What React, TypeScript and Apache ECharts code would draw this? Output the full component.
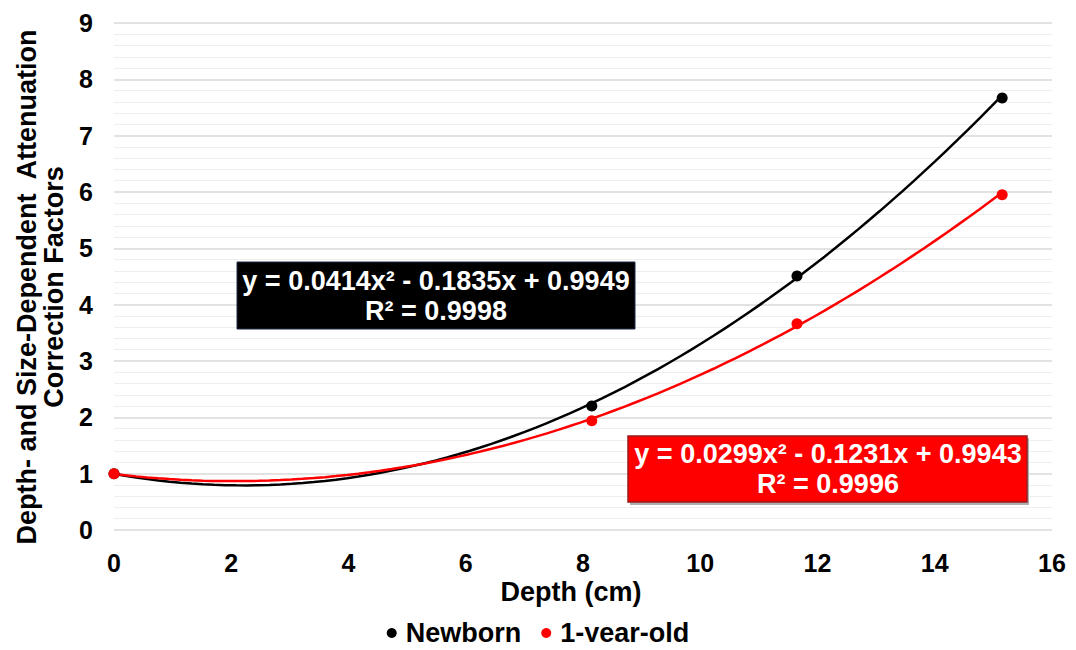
import React, { useEffect, useRef } from "react";
import * as echarts from "echarts";

// Measured depths (cm) and correction factors
const depths = [0, 8.15, 11.65, 15.15];
const newbornFactors = [1.0, 2.2, 4.51, 7.67];
const oneYearFactors = [1.0, 1.94, 3.66, 5.95];

// Quadratic trendline coefficients [a, b, c] for y = a x^2 + b x + c
const newbornFit = [0.0414, -0.1835, 0.9949];
const oneYearFit = [0.0299, -0.1231, 0.9943];

const newbornEq = "y = 0.0414x² - 0.1835x + 0.9949\nR² = 0.9998";
const oneYearEq = "y = 0.0299x² - 0.1231x + 0.9943\nR² = 0.9996";

const xTicks = [0, 2, 4, 6, 8, 10, 12, 14, 16];

const FONT = "'Liberation Sans', Arial, sans-serif";

function trend(coef: number[], xMax: number): number[][] {
  const pts: number[][] = [];
  const steps = 80;
  for (let i = 0; i <= steps; i++) {
    const x = (xMax * i) / steps;
    pts.push([x, coef[0] * x * x + coef[1] * x + coef[2]]);
  }
  return pts;
}

export default function App() {
  const ref = useRef<HTMLDivElement>(null);

  useEffect(() => {
    if (!ref.current) return;
    const chart = echarts.init(ref.current, null, { renderer: "svg" });
    const xMax = depths[depths.length - 1];

    chart.setOption({
      animation: false,
      backgroundColor: "#ffffff",
      grid: { left: 114, right: 24, top: 23, bottom: 120 },
      xAxis: {
        type: "value",
        min: 0,
        max: 16,
        interval: 2,
        axisLine: { show: false },
        axisTick: { show: false },
        splitLine: { show: false },
        axisLabel: {
          color: "#000",
          fontFamily: FONT,
          fontWeight: "bold",
          fontSize: 25,
          margin: 20,
          formatter: (v: number) => (xTicks.includes(v) ? String(v) : ""),
        },
      },
      yAxis: {
        type: "value",
        min: 0,
        max: 9,
        interval: 1,
        axisLine: { show: false },
        axisTick: { show: false },
        splitLine: { show: true, lineStyle: { color: "#d9d9d9", width: 1.5 } },
        minorTick: { show: false, splitNumber: 5 },
        minorSplitLine: { show: true, lineStyle: { color: "#eeeeee", width: 1 } },
        axisLabel: {
          color: "#000",
          fontFamily: FONT,
          fontWeight: "bold",
          fontSize: 25,
          margin: 21,
        },
      },
      legend: {
        top: 618,
        left: "center",
        padding: 0,
        itemWidth: 10,
        itemHeight: 10,
        itemGap: 20,
        textStyle: {
          color: "#000",
          fontFamily: FONT,
          fontWeight: "bold",
          fontSize: 27,
          lineHeight: 30,
          padding: [0, 0, 0, 4],
        },
        data: [
          { name: "Newborn", icon: "circle", itemStyle: { color: "#000" } },
          { name: "1-year-old", icon: "circle", itemStyle: { color: "#ff0000" } },
        ],
      },
      series: [
        {
          name: "Newborn trend",
          type: "line",
          data: trend(newbornFit, xMax),
          showSymbol: false,
          smooth: false,
          lineStyle: { color: "#000", width: 2.5 },
          z: 2,
        },
        {
          name: "1-year-old trend",
          type: "line",
          data: trend(oneYearFit, xMax),
          showSymbol: false,
          smooth: false,
          lineStyle: { color: "#ff0000", width: 2.5 },
          z: 3,
        },
        {
          name: "Newborn",
          type: "scatter",
          data: depths.map((d, i) => [d, newbornFactors[i]]),
          symbol: "circle",
          symbolSize: 11,
          itemStyle: { color: "#000", opacity: 1 },
          z: 4,
        },
        {
          name: "1-year-old",
          type: "scatter",
          data: depths.map((d, i) => [d, oneYearFactors[i]]),
          symbol: "circle",
          symbolSize: 11,
          itemStyle: { color: "#ff0000", opacity: 1 },
          z: 5,
        },
      ],
      graphic: [
        {
          type: "text",
          x: 40,
          y: 287,
          rotation: Math.PI / 2,
          z: 100,
          style: {
            text: "Depth- and Size-Dependent  Attenuation\nCorrection Factors",
            fill: "#000",
            font: `bold 27px ${FONT}`,
            align: "center",
            verticalAlign: "middle",
            lineHeight: 27,
          },
        },
        {
          type: "text",
          x: 571,
          y: 592,
          z: 100,
          style: {
            text: "Depth (cm)",
            fill: "#000",
            font: `bold 27px ${FONT}`,
            align: "center",
            verticalAlign: "middle",
          },
        },
        {
          type: "group",
          x: 237,
          y: 262,
          z: 100,
          children: [
            {
              type: "rect",
              z: 100,
              shape: { x: 0, y: 0, width: 398, height: 67 },
              style: { fill: "#000", stroke: "#1f2a44", lineWidth: 1 },
            },
            {
              type: "text",
              x: 199,
              y: 34,
              z: 101,
              style: {
                text: newbornEq,
                fill: "#fff",
                font: `bold 27px ${FONT}`,
                align: "center",
                verticalAlign: "middle",
                lineHeight: 30,
              },
            },
          ],
        },
        {
          type: "group",
          x: 628,
          y: 436,
          z: 100,
          children: [
            {
              type: "rect",
              z: 99,
              shape: { x: 2, y: 2, width: 399, height: 67 },
              style: { fill: "#b0b0b0" },
            },
            {
              type: "rect",
              z: 100,
              shape: { x: 0, y: 0, width: 399, height: 66 },
              style: { fill: "#ff0000", stroke: "#9a1a1a", lineWidth: 1.5 },
            },
            {
              type: "text",
              x: 200,
              y: 33,
              z: 101,
              style: {
                text: oneYearEq,
                fill: "#fff",
                font: `bold 27px ${FONT}`,
                align: "center",
                verticalAlign: "middle",
                lineHeight: 30,
              },
            },
          ],
        },
      ],
    });

    return () => chart.dispose();
  }, []);

  return <div ref={ref} style={{ width: 1076, height: 650, margin: -8 }} />;
}
